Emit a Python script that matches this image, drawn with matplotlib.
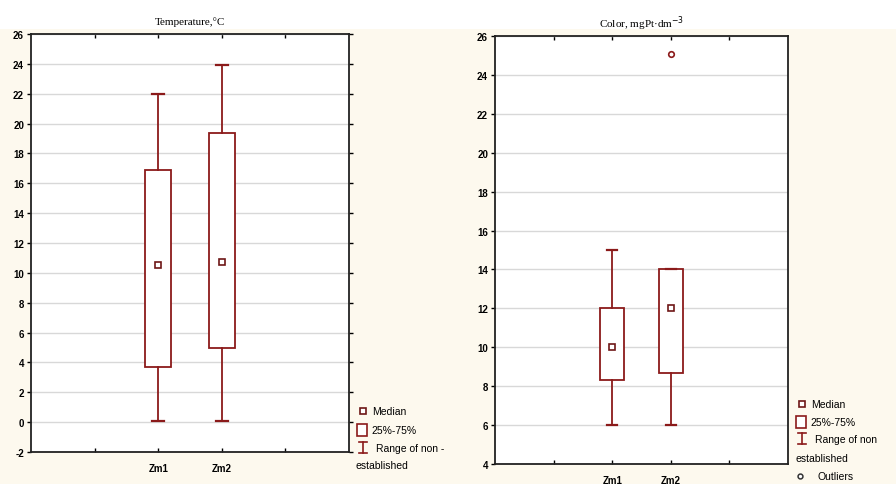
import matplotlib
matplotlib.use("Agg")
import matplotlib.pyplot as plt
from matplotlib.lines import Line2D
from matplotlib.patches import Rectangle

plt.rcParams['font.family'] = ['Liberation Sans', 'DejaVu Sans']
plt.rcParams['axes.unicode_minus'] = False

# data
groups = ["Zm1", "Zm2"]
positions = [1, 2]

temp_med = [10.5, 10.7]
temp_q1 = [3.7, 5.0]
temp_q3 = [16.9, 19.4]
temp_lo = [0.1, 0.1]
temp_hi = [22.0, 23.9]
temp_out = [[], []]

color_med = [10.0, 12.0]
color_q1 = [8.3, 8.7]
color_q3 = [12.0, 14.0]
color_lo = [6.0, 6.0]
color_hi = [15.0, 14.0]
color_out = [[], [25.1]]

dark = "#8b1a1a"
edge = "#6e1616"
cream = "#fdf9ee"


def make_stats(med, q1, q3, lo, hi, out):
    st = []
    for i in range(len(med)):
        st.append({'med': med[i], 'mean': med[i], 'q1': q1[i], 'q3': q3[i],
                   'whislo': lo[i], 'whishi': hi[i], 'fliers': out[i]})
    return st


def draw_panel(ax, stats, title, ylim, ticks):
    ax.set_facecolor("white")
    ax.bxp(stats, positions=positions, widths=0.4, capwidths=0.18,
           patch_artist=True, showmeans=True, showfliers=True,
           boxprops=dict(facecolor="white", edgecolor=dark, linewidth=1.3),
           whiskerprops=dict(color=dark, linewidth=1.3),
           capprops=dict(color=dark, linewidth=1.6),
           medianprops=dict(visible=False),
           meanprops=dict(marker='s', markerfacecolor='white', markeredgecolor=edge,
                          markeredgewidth=1.2, markersize=4),
           flierprops=dict(marker='o', markerfacecolor='white', markeredgecolor=dark,
                           markeredgewidth=1.2, markersize=4))
    ax.set_xlim(-1, 4)
    ax.set_ylim(*ylim)
    ax.set_yticks(ticks)
    ax.set_xticks([0, 1, 2, 3])
    ax.set_xticklabels(["", groups[0], groups[1], ""])
    ax.yaxis.grid(True, color="#d8d8d8", linewidth=1.0)
    ax.set_axisbelow(True)
    ax.tick_params(axis='y', labelsize=7, length=3, width=1, pad=2)
    ax.tick_params(axis='x', labelsize=7, direction='in', top=True, length=3, width=1, pad=8)
    for lab in ax.get_xticklabels() + ax.get_yticklabels():
        lab.set_fontweight('bold')
    for sp in ax.spines.values():
        sp.set_linewidth(1.3)
        sp.set_color("#222222")
    ax.set_title(title, fontsize=8, family=['Liberation Serif', 'DejaVu Serif'], pad=7)


fig = plt.figure(figsize=(8.96, 4.85), dpi=100, facecolor=cream)
W, H = 896.0, 485.0
fig.add_artist(Rectangle((0, 1 - 30 / H), 1, 30 / H, transform=fig.transFigure,
                         facecolor="white", edgecolor="none", zorder=0))

ax1 = fig.add_axes([31 / W, 1 - 453 / H, 318 / W, 418 / H])
draw_panel(ax1, make_stats(temp_med, temp_q1, temp_q3, temp_lo, temp_hi, temp_out),
           "Temperature,°C", (-2, 26), list(range(-2, 27, 2)))
ax1.tick_params(axis='y', right=True)

ax2 = fig.add_axes([495 / W, 1 - 465 / H, 293 / W, 428 / H])
draw_panel(ax2, make_stats(color_med, color_q1, color_q3, color_lo, color_hi, color_out),
           "Color, mgPt·dm$^{-3}$", (4, 26), list(range(4, 27, 2)))


def legend(x0, ys, with_outliers):
    # x0 = left pixel of legend block, ys = row centres in pixels
    def fx(px):
        return px / W

    def fy(py):
        return 1 - py / H
    fs = 7.5
    # median marker
    fig.add_artist(Line2D([fx(x0 + 7)], [fy(ys[0])], transform=fig.transFigure, marker='s',
                          markersize=4, markerfacecolor='white', markeredgecolor=edge,
                          markeredgewidth=1.2, linestyle='none'))
    fig.text(fx(x0 + 16), fy(ys[0]), "Median", fontsize=fs, va='center')
    # box marker
    fig.add_artist(Rectangle((fx(x0 + 1), fy(ys[1] + 6)), 10 / W, 12 / H,
                             transform=fig.transFigure, facecolor='white',
                             edgecolor=dark, linewidth=1.2))
    fig.text(fx(x0 + 15), fy(ys[1]), "25%-75%", fontsize=fs, va='center')
    # range marker
    xc = fx(x0 + 7)
    fig.add_artist(Line2D([xc, xc], [fy(ys[2] - 6), fy(ys[2] + 5)], transform=fig.transFigure,
                          color=dark, linewidth=1.2))
    for yy in (ys[2] - 6, ys[2] + 5):
        fig.add_artist(Line2D([fx(x0 + 3), fx(x0 + 11)], [fy(yy), fy(yy)],
                              transform=fig.transFigure, color=dark, linewidth=1.2))
    fig.text(fx(x0 + 20), fy(ys[2]), "Range of non -" if not with_outliers else "Range of non",
             fontsize=fs, va='center')
    fig.text(fx(x0), fy(ys[3]), "established", fontsize=fs, va='center')
    if with_outliers:
        fig.add_artist(Line2D([fx(x0 + 5)], [fy(ys[4])], transform=fig.transFigure, marker='o',
                              markersize=3.5, markerfacecolor='white', markeredgecolor='#333333',
                              markeredgewidth=1.1, linestyle='none'))
        fig.text(fx(x0 + 22), fy(ys[4]), "Outliers", fontsize=fs, va='center')


legend(356, [412, 431, 449, 466], False)
legend(795, [405, 423, 440, 459, 477], True)

fig.savefig("out.png", dpi=100, facecolor=fig.get_facecolor())
